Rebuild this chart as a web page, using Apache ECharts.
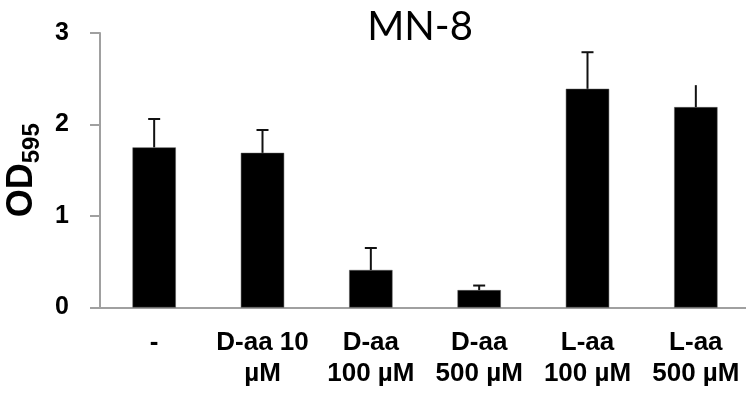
<!DOCTYPE html>
<html>
<head>
<meta charset="utf-8">
<script src="https://cdn.jsdelivr.net/npm/echarts@6/dist/echarts.min.js"></script>
<style>
  html, body { margin: 0; padding: 0; background: #fff; }
  #chart { width: 746px; height: 398px; }
</style>
</head>
<body>
<div id="chart"></div>
<script>
// MN-8 biofilm, OD595
var categories = ['-', 'D-aa 10\nµM', 'D-aa\n100 µM', 'D-aa\n500 µM', 'L-aa\n100 µM', 'L-aa\n500 µM'];
var means = [1.75, 1.69, 0.41, 0.19, 2.39, 2.19];
var errors = [0.31, 0.25, 0.24, 0.05, 0.40, 0.24];
var hasCap = [true, true, true, true, true, false];
var yTicks = [0, 1, 2, 3];

var labelFont = 'Liberation Sans, Arial, sans-serif';

var myChart = echarts.init(document.getElementById('chart'));
myChart.setOption({
    animation: false,
    title: {
        text: 'MN-8',
        left: 415,
        top: 2,
        textAlign: 'center',
        textStyle: {
            fontFamily: 'Lato, sans-serif',
            fontWeight: 'normal',
            fontSize: 40,
            color: '#000'
        }
    },
    grid: {
        left: 100,
        right: -4,
        top: 33,
        bottom: 90.5,
        containLabel: false,
        outerBoundsMode: 'none'
    },
    xAxis: {
        type: 'category',
        data: categories,
        axisLine: { lineStyle: { color: '#a0a0a0', width: 2 } },
        axisTick: { length: 8, lineStyle: { color: '#a0a0a0', width: 2 } },
        axisLabel: {
            margin: 20,
            interval: 0,
            fontFamily: labelFont,
            fontWeight: 'bold',
            fontSize: 26,
            lineHeight: 31,
            color: '#000'
        }
    },
    yAxis: {
        type: 'value',
        min: yTicks[0],
        max: yTicks[yTicks.length - 1],
        interval: 1,
        splitLine: { show: false },
        axisLine: { show: true, lineStyle: { color: '#a0a0a0', width: 2 } },
        axisTick: { show: true, length: 10, lineStyle: { color: '#a0a0a0', width: 2 } },
        axisLabel: {
            margin: 31,
            fontFamily: labelFont,
            fontWeight: 'bold',
            fontSize: 25,
            color: '#000'
        },
        name: '{a|OD}{b|595}',
        nameLocation: 'middle',
        nameRotate: 90,
        nameGap: 56,
        nameTextStyle: {
            rich: {
                a: {
                    fontFamily: labelFont,
                    fontWeight: 'bold',
                    fontSize: 36,
                    lineHeight: 36,
                    verticalAlign: 'top',
                    color: '#000'
                },
                b: {
                    fontFamily: labelFont,
                    fontWeight: 'bold',
                    fontSize: 24,
                    lineHeight: 24,
                    padding: [16, 0, 0, 0],
                    verticalAlign: 'top',
                    color: '#000'
                }
            }
        }
    },
    series: [
        {
            type: 'bar',
            data: means,
            barWidth: '40%',
            itemStyle: { color: '#000', borderColor: '#555', borderWidth: 0.5 }
        },
        {
            type: 'custom',
            data: means.map(function (m, i) { return [i, m, m + errors[i]]; }),
            renderItem: function (params, api) {
                var i = api.value(0);
                var lo = api.coord([i, api.value(1)]);
                var hi = api.coord([i, api.value(2)]);
                var style = { stroke: '#111', lineWidth: 2 };
                var children = [
                    { type: 'line', shape: { x1: lo[0], y1: lo[1], x2: hi[0], y2: hi[1] }, style: style }
                ];
                if (hasCap[i]) {
                    children.push({ type: 'line', shape: { x1: hi[0] - 6, y1: hi[1], x2: hi[0] + 6, y2: hi[1] }, style: style });
                }
                return { type: 'group', children: children };
            },
            z: 3
        }
    ]
});
</script>
</body>
</html>
